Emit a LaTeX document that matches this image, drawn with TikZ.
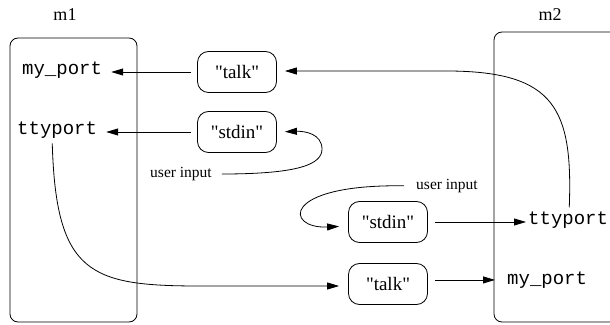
\documentclass[tikz,border=0pt]{standalone}
\usepackage{fontspec}
\setmainfont{Liberation Serif}
\setmonofont{Liberation Mono}
\usetikzlibrary{arrows.meta}

\tikzset{
  msgbox/.style={draw, line width=0.8pt, rounded corners=11pt, minimum width=79pt, minimum height=41pt, inner sep=0pt, font=\fontsize{19}{22}\selectfont},
  port/.style={inner sep=0pt, font=\ttfamily\fontsize{19}{22}\selectfont},
  note/.style={inner sep=0pt, font=\fontsize{15.5}{18}\selectfont},
  host/.style={inner sep=0pt, font=\fontsize{18}{20}\selectfont},
  machine/.style={draw, line width=0.8pt, rounded corners=8pt},
  flow/.style={-{Triangle[length=12pt,width=7pt]}, line width=0.8pt},
}
\newcommand{\qname}[1]{\textquotedbl#1\textquotedbl}

\begin{document}
\begin{tikzpicture}[x=1pt,y=1pt]
	\useasboundingbox (0,0) rectangle (610,324);
	
	% the two machines
	\draw[machine] (10,2) rectangle (137,286);
	\draw[machine] (494,2) rectangle (650,292);
	\node[host] (m1) at (65,309) {m1};
	\node[host] (m2) at (550,309) {m2};
	
	% ports
	\node[port,anchor=mid west] (myport1) at (22,252) {my\_port};
	\node[port,anchor=mid west] (ttyport1) at (17,192) {ttyport};
	\node[port,anchor=mid west] (ttyport2) at (528,102) {ttyport};
	\node[port,anchor=mid west] (myport2) at (507,42) {my\_port};
	
	% streams
	\node[msgbox] (talk1) at (237,252) {\qname{talk}};
	\node[msgbox] (stdin1) at (237,192) {\qname{stdin}};
	\node[msgbox] (stdin2) at (388,102) {\qname{stdin}};
	\node[msgbox] (talk2) at (388,40) {\qname{talk}};
	
	\node[note] (uin1) at (181,150) {user input};
	\node[note] (uin2) at (447,138) {user input};
	
	% connections
	\draw[flow,shorten <=6pt,shorten >=9pt] (talk1.west) -- (talk1.west -| myport1.east);
	\draw[flow,shorten <=6pt,shorten >=9pt] (stdin1.west) -- (stdin1.west -| ttyport1.east);
	\draw[flow,shorten <=7pt,shorten >=2pt] (stdin2.east) -- (stdin2.east -| ttyport2.west);
	\draw[flow,shorten <=7pt,shorten >=12pt] (talk2.east |- myport2.west) -- (myport2.west);
	
	\draw[flow,shorten <=10pt,shorten >=8pt] (uin1.east) .. controls (300,150) and (322,160) .. (322,175)
		.. controls (322,190) and (305,193) .. (stdin1.east);
	\draw[flow,shorten <=12pt,shorten >=9pt] (uin2.west) .. controls (280,140) and (285,95) .. ([yshift=-4pt]stdin2.west);
	\draw[flow,shorten <=4pt,shorten >=8pt] ([xshift=1pt]ttyport2.north) .. controls (573,215) and (555,252) .. (450,253) -- ([yshift=1pt]talk1.east);
	\draw[flow,shorten <=5pt,shorten >=9pt] ([xshift=-5pt]ttyport1.south) .. controls (56,50) and (90,38) .. (200,38) -- ([yshift=-2pt]talk2.west);
\end{tikzpicture}
\end{document}
